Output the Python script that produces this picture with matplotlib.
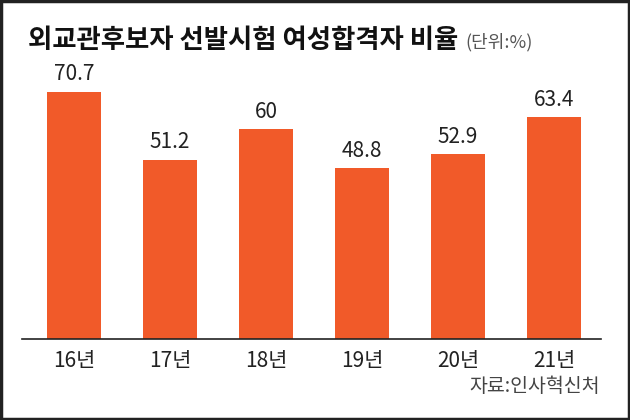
import matplotlib.pyplot as plt
from matplotlib.patches import Rectangle

plt.rcParams['font.family'] = ['Noto Sans CJK KR', 'DejaVu Sans']

years = ["16년", "17년", "18년", "19년", "20년", "21년"]
values = [70.7, 51.2, 60, 48.8, 52.9, 63.4]
labels = ["70.7", "51.2", "60", "48.8", "52.9", "63.4"]

fig = plt.figure(figsize=(6.3, 4.2), dpi=100)
ax = fig.add_axes([22 / 630, 81 / 420, 579 / 630, 280 / 420])

x = list(range(len(years)))
ax.bar(x, values, width=0.56, color="#F15A29")
for xi, v, t in zip(x, values, labels):
    ax.text(xi, v + 1.8, t, ha="center", va="bottom", fontsize=15, color="#222222")

ax.set_xlim(-0.542, 5.49)
ax.set_ylim(0, 80)
ax.set_xticks(x)
ax.set_xticklabels(years, fontsize=15, color="#222222")
ax.tick_params(axis="x", length=0, pad=8)
ax.set_yticks([])
for s in ["top", "right", "left"]:
    ax.spines[s].set_visible(False)
ax.spines["bottom"].set_color("#222222")
ax.spines["bottom"].set_linewidth(1.2)

fig.text(28 / 630, 1 - 40 / 420, "외교관후보자 선발시험 여성합격자 비율", fontsize=19,
         fontweight="bold", color="#111111", va="center", ha="left")
fig.text(465 / 630, 1 - 42 / 420, "(단위:%)", fontsize=13, color="#555555",
         va="center", ha="left")
fig.text(600 / 630, 1 - 386 / 420, "자료:인사혁신처", fontsize=14, color="#444444",
         va="center", ha="right")

fig.patches.append(Rectangle((0.002, 0.003), 0.996, 0.994, transform=fig.transFigure,
                             fill=False, edgecolor="#222222", linewidth=2.5))

fig.savefig("out.png", dpi=100)
